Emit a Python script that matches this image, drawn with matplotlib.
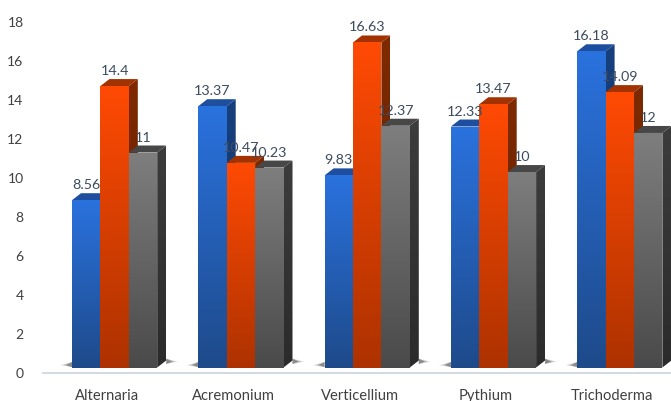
import numpy as np
import matplotlib
matplotlib.use("Agg")
import matplotlib.pyplot as plt
from matplotlib.patches import Polygon
from matplotlib.colors import LinearSegmentedColormap

categories = ["Alternaria", "Acremonium", "Verticellium", "Pythium", "Trichoderma"]
series1 = [8.56, 13.37, 9.83, 12.33, 16.18]
series2 = [14.4, 10.47, 16.63, 13.47, 14.09]
series3 = [11, 10.23, 12.37, 10, 12]
yticks = [0, 2, 4, 6, 8, 10, 12, 14, 16, 18]

W, H, DPI = 671, 402, 100
fig = plt.figure(figsize=(W / DPI, H / DPI), dpi=DPI)
fig.patch.set_facecolor("white")

# axes placement in pixels
ax_left, ax_right = 43, 671
y0_px, y18_px = 373.5, 21.7  # from top
ax = fig.add_axes([ax_left / W, (H - y0_px) / H, (ax_right - ax_left) / W, (y0_px - y18_px) / H])

px_per_unit_x = 126.3
label0_px = 107
xlim = ((ax_left - label0_px) / px_per_unit_x, (ax_right - label0_px) / px_per_unit_x)
ax.set_xlim(*xlim)
ax.set_ylim(0, 18)

px_per_unit_y = (y0_px - y18_px) / 18
bar_w = 28.4 / px_per_unit_x
group_off = -35 / px_per_unit_x
dx = 9 / px_per_unit_x
dy = 7 / px_per_unit_y
floor = 5 / px_per_unit_y

styles = [
    dict(front=("#2A72DE", "#1E4A8A"), side=("#17407E", "#11305E"), top="#1D4F9E"),
    dict(front=("#FF4A04", "#AD3200"), side=("#7E2A00", "#5E2000"), top="#A23300"),
    dict(front=("#7E7E7E", "#4A4A4A"), side=("#3C3C3C", "#2B2B2B"), top="#474747"),
]

def grad_fill(ax, poly_xy, c_top, c_bot, ylo, yhi, z):
    cmap = LinearSegmentedColormap.from_list("g", [c_bot, c_top])
    xs = [p[0] for p in poly_xy]
    img = np.linspace(0, 1, 256).reshape(-1, 1)
    im = ax.imshow(img, cmap=cmap, origin="lower", aspect="auto",
                   extent=[min(xs), max(xs), ylo, yhi], zorder=z, interpolation="bilinear")
    patch = Polygon(poly_xy, closed=True, facecolor="none", edgecolor="none", transform=ax.transData)
    ax.add_patch(patch)
    im.set_clip_path(patch)

data = [series1, series2, series3]
z = 2
for i, cat in enumerate(categories):
    gx = i + group_off
    # soft floor shadows
    for k, a in enumerate([0.15, 0.25, 0.4]):
        w = (12 - 3 * k) / px_per_unit_x
        sh = Polygon([(gx - w, floor + 0.12), (gx, floor + 0.02), (gx, floor + 0.28)],
                     closed=True, facecolor="#444444", edgecolor="none", alpha=a, zorder=1)
        ax.add_patch(sh)
        rx = gx + 3 * bar_w + dx
        sh2 = Polygon([(rx, floor + 0.18), (rx + w, floor + 0.3), (rx, floor + 0.45)],
                      closed=True, facecolor="#444444", edgecolor="none", alpha=a, zorder=1)
        ax.add_patch(sh2)
    for s in range(3):
        v = data[s][i]
        st = styles[s]
        x0 = gx + s * bar_w
        x1 = x0 + bar_w
        yb = floor
        yt = floor + v
        # side face
        side = [(x1, yb), (x1 + dx, yb + dy), (x1 + dx, yt + dy), (x1, yt)]
        grad_fill(ax, side, st["side"][0], st["side"][1], yb, yt + dy, z)
        z += 1
        # top face
        top = Polygon([(x0, yt), (x1, yt), (x1 + dx, yt + dy), (x0 + dx, yt + dy)],
                      closed=True, facecolor=st["top"], edgecolor="none", zorder=z)
        ax.add_patch(top)
        z += 1
        # front face
        front = [(x0, yb), (x1, yb), (x1, yt), (x0, yt)]
        grad_fill(ax, front, st["front"][0], st["front"][1], yb, yt, z)
        z += 1
        ax.text(x0 + bar_w / 2, yt + dy + 3 / px_per_unit_y, f"{v:g}", ha="center", va="bottom",
                fontsize=10.3, color="#3D4B5F", family="Lato", zorder=100)

ax.set_yticks(yticks)
ax.set_yticklabels([str(t) for t in yticks], fontsize=10, color="#404040", family="Lato")
ax.set_xticks(range(len(categories)))
ax.set_xticklabels(categories, fontsize=10.6, color="#404040", family="Lato")
ax.tick_params(axis="y", length=0, pad=14)
ax.tick_params(axis="x", length=0, pad=11)
for sp in ["left", "right", "top"]:
    ax.spines[sp].set_visible(False)
ax.spines["bottom"].set_color("#C9D3DE")
ax.spines["bottom"].set_linewidth(1.2)
ax.set_facecolor("white")

fig.savefig("out.png", dpi=DPI, facecolor="white")
